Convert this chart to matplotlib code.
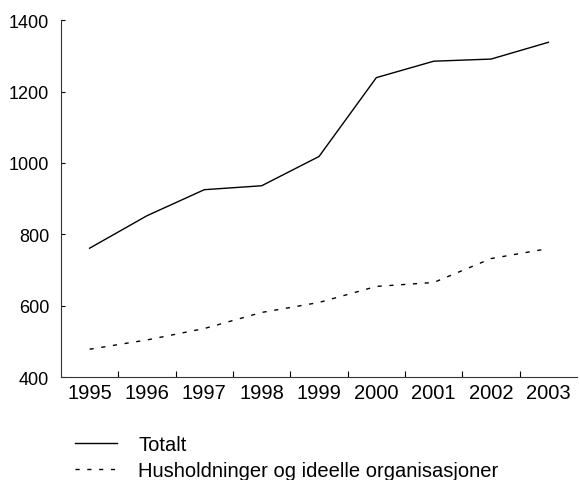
import numpy as np
import matplotlib
matplotlib.use("Agg")
import matplotlib.pyplot as plt
from matplotlib.ticker import FixedLocator, NullFormatter

plt.rcParams['font.family'] = ['Liberation Sans', 'DejaVu Sans']

years = ["1995", "1996", "1997", "1998", "1999", "2000", "2001", "2002", "2003"]
totalt = [761, 852, 925, 936, 1018, 1239, 1285, 1291, 1338]
husholdninger = [478, 504, 536, 581, 609, 654, 665, 732, 760]
yticks = [400, 600, 800, 1000, 1200, 1400]

fig = plt.figure(figsize=(5.8, 4.81), dpi=100)
ax = fig.add_axes([0.105, 0.214, 0.89, 0.742])

x = np.arange(len(years))
l1, = ax.plot(x, totalt, color="black", lw=1.0, label="Totalt")
l2, = ax.plot(x, husholdninger, color="black", lw=1.0, dashes=(3, 5.5),
              label="Husholdninger og ideelle organisasjoner")

ax.set_xlim(-0.5, len(years) - 0.5)
ax.set_ylim(400, 1400)
ax.set_yticks(yticks)

# boundary ticks between categories, labels at centers
ax.xaxis.set_major_locator(FixedLocator(np.arange(0.5, len(years) - 0.5, 1)))
ax.xaxis.set_major_formatter(NullFormatter())
ax.xaxis.set_minor_locator(FixedLocator(x))
ax.set_xticklabels(years, minor=True)
ax.tick_params(axis="x", which="minor", length=0, labelsize=14.5, pad=4)
ax.tick_params(axis="x", which="major", direction="in", length=4, width=0.8)
ax.tick_params(axis="y", direction="in", length=3, width=0.8, labelsize=13, pad=8.5)

for s in ["top", "right"]:
    ax.spines[s].set_visible(False)
for s in ["left", "bottom"]:
    ax.spines[s].set_linewidth(0.8)
    ax.spines[s].set_color("#333333")

fig.legend(handles=[l1, l2], loc="upper left", bbox_to_anchor=(0.129, 0.093),
           frameon=False, fontsize=14.5, handlelength=2.1, handletextpad=1.04,
           labelspacing=0.33, borderaxespad=0, borderpad=0)

fig.savefig("out.png", dpi=100)
